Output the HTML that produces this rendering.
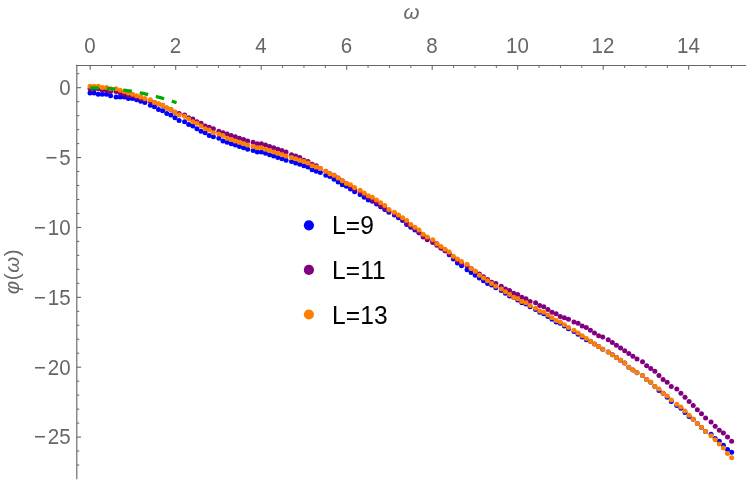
<!DOCTYPE html>
<html><head><meta charset="utf-8"><title>plot</title>
<style>
html,body{margin:0;padding:0;background:#fff;}
body{width:747px;height:481px;overflow:hidden;}
svg{display:block;font-family:"Liberation Sans",sans-serif;will-change:transform;-webkit-font-smoothing:antialiased;}
</style></head><body>
<svg width="747" height="481" viewBox="0 0 747 481">
<rect width="747" height="481" fill="#fff"/>
<g><line x1="76.22" y1="65.45" x2="746" y2="65.45" stroke="#666666" stroke-width="1.15"/><line x1="76.8" y1="64.87" x2="76.8" y2="479.3" stroke="#666666" stroke-width="1.15"/><line x1="90.20" y1="65.45" x2="90.20" y2="69.75" stroke="#666666" stroke-width="1.1"/><line x1="111.58" y1="65.45" x2="111.58" y2="67.95" stroke="#666666" stroke-width="1.0"/><line x1="132.95" y1="65.45" x2="132.95" y2="67.95" stroke="#666666" stroke-width="1.0"/><line x1="154.32" y1="65.45" x2="154.32" y2="67.95" stroke="#666666" stroke-width="1.0"/><line x1="175.70" y1="65.45" x2="175.70" y2="69.75" stroke="#666666" stroke-width="1.1"/><line x1="197.07" y1="65.45" x2="197.07" y2="67.95" stroke="#666666" stroke-width="1.0"/><line x1="218.45" y1="65.45" x2="218.45" y2="67.95" stroke="#666666" stroke-width="1.0"/><line x1="239.82" y1="65.45" x2="239.82" y2="67.95" stroke="#666666" stroke-width="1.0"/><line x1="261.20" y1="65.45" x2="261.20" y2="69.75" stroke="#666666" stroke-width="1.1"/><line x1="282.57" y1="65.45" x2="282.57" y2="67.95" stroke="#666666" stroke-width="1.0"/><line x1="303.95" y1="65.45" x2="303.95" y2="67.95" stroke="#666666" stroke-width="1.0"/><line x1="325.32" y1="65.45" x2="325.32" y2="67.95" stroke="#666666" stroke-width="1.0"/><line x1="346.70" y1="65.45" x2="346.70" y2="69.75" stroke="#666666" stroke-width="1.1"/><line x1="368.07" y1="65.45" x2="368.07" y2="67.95" stroke="#666666" stroke-width="1.0"/><line x1="389.45" y1="65.45" x2="389.45" y2="67.95" stroke="#666666" stroke-width="1.0"/><line x1="410.82" y1="65.45" x2="410.82" y2="67.95" stroke="#666666" stroke-width="1.0"/><line x1="432.20" y1="65.45" x2="432.20" y2="69.75" stroke="#666666" stroke-width="1.1"/><line x1="453.57" y1="65.45" x2="453.57" y2="67.95" stroke="#666666" stroke-width="1.0"/><line x1="474.95" y1="65.45" x2="474.95" y2="67.95" stroke="#666666" stroke-width="1.0"/><line x1="496.32" y1="65.45" x2="496.32" y2="67.95" stroke="#666666" stroke-width="1.0"/><line x1="517.70" y1="65.45" x2="517.70" y2="69.75" stroke="#666666" stroke-width="1.1"/><line x1="539.08" y1="65.45" x2="539.08" y2="67.95" stroke="#666666" stroke-width="1.0"/><line x1="560.45" y1="65.45" x2="560.45" y2="67.95" stroke="#666666" stroke-width="1.0"/><line x1="581.83" y1="65.45" x2="581.83" y2="67.95" stroke="#666666" stroke-width="1.0"/><line x1="603.20" y1="65.45" x2="603.20" y2="69.75" stroke="#666666" stroke-width="1.1"/><line x1="624.58" y1="65.45" x2="624.58" y2="67.95" stroke="#666666" stroke-width="1.0"/><line x1="645.95" y1="65.45" x2="645.95" y2="67.95" stroke="#666666" stroke-width="1.0"/><line x1="667.33" y1="65.45" x2="667.33" y2="67.95" stroke="#666666" stroke-width="1.0"/><line x1="688.70" y1="65.45" x2="688.70" y2="69.75" stroke="#666666" stroke-width="1.1"/><line x1="710.08" y1="65.45" x2="710.08" y2="67.95" stroke="#666666" stroke-width="1.0"/><line x1="731.45" y1="65.45" x2="731.45" y2="67.95" stroke="#666666" stroke-width="1.0"/><line x1="76.8" y1="73.73" x2="79.3" y2="73.73" stroke="#666666" stroke-width="1.0"/><line x1="76.8" y1="87.70" x2="81.1" y2="87.70" stroke="#666666" stroke-width="1.1"/><line x1="76.8" y1="101.67" x2="79.3" y2="101.67" stroke="#666666" stroke-width="1.0"/><line x1="76.8" y1="115.65" x2="79.3" y2="115.65" stroke="#666666" stroke-width="1.0"/><line x1="76.8" y1="129.62" x2="79.3" y2="129.62" stroke="#666666" stroke-width="1.0"/><line x1="76.8" y1="143.60" x2="79.3" y2="143.60" stroke="#666666" stroke-width="1.0"/><line x1="76.8" y1="157.57" x2="81.1" y2="157.57" stroke="#666666" stroke-width="1.1"/><line x1="76.8" y1="171.55" x2="79.3" y2="171.55" stroke="#666666" stroke-width="1.0"/><line x1="76.8" y1="185.53" x2="79.3" y2="185.53" stroke="#666666" stroke-width="1.0"/><line x1="76.8" y1="199.50" x2="79.3" y2="199.50" stroke="#666666" stroke-width="1.0"/><line x1="76.8" y1="213.47" x2="79.3" y2="213.47" stroke="#666666" stroke-width="1.0"/><line x1="76.8" y1="227.45" x2="81.1" y2="227.45" stroke="#666666" stroke-width="1.1"/><line x1="76.8" y1="241.43" x2="79.3" y2="241.43" stroke="#666666" stroke-width="1.0"/><line x1="76.8" y1="255.40" x2="79.3" y2="255.40" stroke="#666666" stroke-width="1.0"/><line x1="76.8" y1="269.38" x2="79.3" y2="269.38" stroke="#666666" stroke-width="1.0"/><line x1="76.8" y1="283.35" x2="79.3" y2="283.35" stroke="#666666" stroke-width="1.0"/><line x1="76.8" y1="297.32" x2="81.1" y2="297.32" stroke="#666666" stroke-width="1.1"/><line x1="76.8" y1="311.30" x2="79.3" y2="311.30" stroke="#666666" stroke-width="1.0"/><line x1="76.8" y1="325.27" x2="79.3" y2="325.27" stroke="#666666" stroke-width="1.0"/><line x1="76.8" y1="339.25" x2="79.3" y2="339.25" stroke="#666666" stroke-width="1.0"/><line x1="76.8" y1="353.22" x2="79.3" y2="353.22" stroke="#666666" stroke-width="1.0"/><line x1="76.8" y1="367.20" x2="81.1" y2="367.20" stroke="#666666" stroke-width="1.1"/><line x1="76.8" y1="381.17" x2="79.3" y2="381.17" stroke="#666666" stroke-width="1.0"/><line x1="76.8" y1="395.15" x2="79.3" y2="395.15" stroke="#666666" stroke-width="1.0"/><line x1="76.8" y1="409.12" x2="79.3" y2="409.12" stroke="#666666" stroke-width="1.0"/><line x1="76.8" y1="423.10" x2="79.3" y2="423.10" stroke="#666666" stroke-width="1.0"/><line x1="76.8" y1="437.07" x2="81.1" y2="437.07" stroke="#666666" stroke-width="1.1"/><line x1="76.8" y1="451.05" x2="79.3" y2="451.05" stroke="#666666" stroke-width="1.0"/><line x1="76.8" y1="465.02" x2="79.3" y2="465.02" stroke="#666666" stroke-width="1.0"/></g>
<g fill="#0000ff"><circle cx="90.00" cy="92.98" r="2.5"/><circle cx="94.11" cy="92.98" r="2.5"/><circle cx="98.23" cy="94.36" r="2.5"/><circle cx="102.34" cy="94.36" r="2.5"/><circle cx="106.45" cy="94.36" r="2.5"/><circle cx="110.56" cy="95.73" r="2.5"/><circle cx="116.05" cy="97.10" r="2.5"/><circle cx="120.16" cy="97.10" r="2.5"/><circle cx="124.28" cy="97.10" r="2.5"/><circle cx="128.39" cy="98.47" r="2.5"/><circle cx="132.50" cy="98.47" r="2.5"/><circle cx="136.61" cy="99.84" r="2.5"/><circle cx="140.73" cy="101.21" r="2.5"/><circle cx="144.84" cy="102.58" r="2.5"/><circle cx="150.32" cy="105.32" r="2.5"/><circle cx="154.44" cy="106.69" r="2.5"/><circle cx="158.55" cy="109.44" r="2.5"/><circle cx="162.66" cy="110.81" r="2.5"/><circle cx="166.78" cy="113.55" r="2.5"/><circle cx="170.89" cy="114.92" r="2.5"/><circle cx="175.00" cy="117.66" r="2.5"/><circle cx="179.12" cy="120.40" r="2.5"/><circle cx="184.60" cy="121.78" r="2.5"/><circle cx="188.71" cy="124.52" r="2.5"/><circle cx="192.82" cy="125.89" r="2.5"/><circle cx="196.94" cy="128.63" r="2.5"/><circle cx="201.05" cy="131.37" r="2.5"/><circle cx="205.16" cy="132.74" r="2.5"/><circle cx="209.28" cy="135.49" r="2.5"/><circle cx="213.39" cy="136.86" r="2.5"/><circle cx="218.87" cy="138.23" r="2.5"/><circle cx="222.99" cy="140.97" r="2.5"/><circle cx="227.10" cy="142.34" r="2.5"/><circle cx="231.21" cy="143.71" r="2.5"/><circle cx="235.33" cy="145.08" r="2.5"/><circle cx="239.44" cy="146.45" r="2.5"/><circle cx="243.55" cy="147.82" r="2.5"/><circle cx="247.66" cy="149.19" r="2.5"/><circle cx="253.15" cy="150.57" r="2.5"/><circle cx="257.26" cy="151.94" r="2.5"/><circle cx="261.38" cy="151.94" r="2.5"/><circle cx="265.49" cy="153.31" r="2.5"/><circle cx="269.60" cy="154.68" r="2.5"/><circle cx="273.71" cy="156.05" r="2.5"/><circle cx="277.83" cy="157.42" r="2.5"/><circle cx="281.94" cy="158.79" r="2.5"/><circle cx="286.05" cy="160.16" r="2.5"/><circle cx="291.54" cy="161.53" r="2.5"/><circle cx="295.65" cy="162.91" r="2.5"/><circle cx="299.76" cy="164.28" r="2.5"/><circle cx="303.88" cy="165.65" r="2.5"/><circle cx="307.99" cy="167.02" r="2.5"/><circle cx="312.10" cy="169.76" r="2.5"/><circle cx="316.22" cy="171.13" r="2.5"/><circle cx="320.33" cy="172.50" r="2.5"/><circle cx="325.81" cy="175.24" r="2.5"/><circle cx="329.93" cy="176.62" r="2.5"/><circle cx="334.04" cy="179.36" r="2.5"/><circle cx="338.15" cy="182.10" r="2.5"/><circle cx="342.26" cy="184.84" r="2.5"/><circle cx="346.38" cy="186.21" r="2.5"/><circle cx="350.49" cy="188.95" r="2.5"/><circle cx="354.60" cy="191.70" r="2.5"/><circle cx="360.09" cy="194.44" r="2.5"/><circle cx="364.20" cy="197.18" r="2.5"/><circle cx="368.31" cy="199.92" r="2.5"/><circle cx="372.43" cy="201.29" r="2.5"/><circle cx="376.54" cy="204.03" r="2.5"/><circle cx="380.65" cy="206.78" r="2.5"/><circle cx="384.76" cy="209.52" r="2.5"/><circle cx="388.88" cy="212.26" r="2.5"/><circle cx="394.36" cy="215.00" r="2.5"/><circle cx="398.48" cy="217.75" r="2.5"/><circle cx="402.59" cy="220.49" r="2.5"/><circle cx="406.70" cy="224.60" r="2.5"/><circle cx="410.81" cy="227.34" r="2.5"/><circle cx="414.93" cy="230.08" r="2.5"/><circle cx="419.04" cy="232.83" r="2.5"/><circle cx="423.15" cy="235.57" r="2.5"/><circle cx="427.27" cy="238.31" r="2.5"/><circle cx="432.75" cy="241.05" r="2.5"/><circle cx="436.86" cy="243.79" r="2.5"/><circle cx="440.98" cy="247.91" r="2.5"/><circle cx="445.09" cy="250.65" r="2.5"/><circle cx="449.20" cy="254.76" r="2.5"/><circle cx="453.31" cy="258.88" r="2.5"/><circle cx="457.43" cy="262.99" r="2.5"/><circle cx="461.54" cy="265.73" r="2.5"/><circle cx="467.02" cy="269.84" r="2.5"/><circle cx="471.14" cy="272.59" r="2.5"/><circle cx="475.25" cy="275.33" r="2.5"/><circle cx="479.36" cy="278.07" r="2.5"/><circle cx="483.48" cy="280.81" r="2.5"/><circle cx="487.59" cy="283.55" r="2.5"/><circle cx="491.70" cy="284.92" r="2.5"/><circle cx="495.82" cy="287.67" r="2.5"/><circle cx="501.30" cy="290.41" r="2.5"/><circle cx="505.41" cy="293.15" r="2.5"/><circle cx="509.53" cy="295.89" r="2.5"/><circle cx="513.64" cy="297.26" r="2.5"/><circle cx="517.75" cy="300.00" r="2.5"/><circle cx="521.87" cy="302.75" r="2.5"/><circle cx="525.98" cy="304.12" r="2.5"/><circle cx="530.09" cy="306.86" r="2.5"/><circle cx="535.58" cy="309.60" r="2.5"/><circle cx="539.69" cy="312.34" r="2.5"/><circle cx="543.80" cy="313.72" r="2.5"/><circle cx="547.91" cy="316.46" r="2.5"/><circle cx="552.03" cy="319.20" r="2.5"/><circle cx="556.14" cy="321.94" r="2.5"/><circle cx="560.25" cy="323.31" r="2.5"/><circle cx="564.37" cy="326.05" r="2.5"/><circle cx="568.48" cy="328.80" r="2.5"/><circle cx="573.96" cy="331.54" r="2.5"/><circle cx="578.08" cy="334.28" r="2.5"/><circle cx="582.19" cy="337.02" r="2.5"/><circle cx="586.30" cy="339.76" r="2.5"/><circle cx="590.41" cy="341.13" r="2.5"/><circle cx="594.53" cy="343.88" r="2.5"/><circle cx="598.64" cy="346.62" r="2.5"/><circle cx="602.75" cy="349.36" r="2.5"/><circle cx="608.24" cy="352.10" r="2.5"/><circle cx="612.35" cy="354.85" r="2.5"/><circle cx="616.46" cy="357.59" r="2.5"/><circle cx="620.58" cy="360.33" r="2.5"/><circle cx="624.69" cy="363.07" r="2.5"/><circle cx="628.80" cy="367.18" r="2.5"/><circle cx="632.92" cy="369.93" r="2.5"/><circle cx="637.03" cy="372.67" r="2.5"/><circle cx="642.51" cy="375.41" r="2.5"/><circle cx="646.63" cy="379.52" r="2.5"/><circle cx="650.74" cy="382.26" r="2.5"/><circle cx="654.85" cy="386.38" r="2.5"/><circle cx="658.97" cy="390.49" r="2.5"/><circle cx="663.08" cy="393.23" r="2.5"/><circle cx="667.19" cy="397.35" r="2.5"/><circle cx="671.30" cy="401.46" r="2.5"/><circle cx="676.79" cy="405.57" r="2.5"/><circle cx="680.90" cy="408.31" r="2.5"/><circle cx="685.01" cy="412.43" r="2.5"/><circle cx="689.13" cy="416.54" r="2.5"/><circle cx="693.24" cy="419.28" r="2.5"/><circle cx="697.35" cy="423.39" r="2.5"/><circle cx="701.47" cy="427.51" r="2.5"/><circle cx="705.58" cy="431.62" r="2.5"/><circle cx="711.06" cy="434.36" r="2.5"/><circle cx="715.18" cy="438.48" r="2.5"/><circle cx="719.29" cy="441.22" r="2.5"/><circle cx="723.40" cy="445.33" r="2.5"/><circle cx="727.51" cy="449.44" r="2.5"/><circle cx="731.63" cy="452.19" r="2.5"/></g><g fill="#800080"><circle cx="90.00" cy="88.87" r="2.5"/><circle cx="94.11" cy="88.87" r="2.5"/><circle cx="98.23" cy="88.87" r="2.5"/><circle cx="102.34" cy="90.24" r="2.5"/><circle cx="106.45" cy="90.24" r="2.5"/><circle cx="110.56" cy="91.61" r="2.5"/><circle cx="116.05" cy="91.61" r="2.5"/><circle cx="120.16" cy="92.98" r="2.5"/><circle cx="124.28" cy="94.36" r="2.5"/><circle cx="128.39" cy="95.73" r="2.5"/><circle cx="132.50" cy="95.73" r="2.5"/><circle cx="136.61" cy="97.10" r="2.5"/><circle cx="140.73" cy="98.47" r="2.5"/><circle cx="144.84" cy="99.84" r="2.5"/><circle cx="150.32" cy="101.21" r="2.5"/><circle cx="154.44" cy="102.58" r="2.5"/><circle cx="158.55" cy="103.95" r="2.5"/><circle cx="162.66" cy="105.32" r="2.5"/><circle cx="166.78" cy="108.06" r="2.5"/><circle cx="170.89" cy="109.44" r="2.5"/><circle cx="175.00" cy="112.18" r="2.5"/><circle cx="179.12" cy="113.55" r="2.5"/><circle cx="184.60" cy="114.92" r="2.5"/><circle cx="188.71" cy="117.66" r="2.5"/><circle cx="192.82" cy="119.03" r="2.5"/><circle cx="196.94" cy="121.78" r="2.5"/><circle cx="201.05" cy="123.15" r="2.5"/><circle cx="205.16" cy="125.89" r="2.5"/><circle cx="209.28" cy="127.26" r="2.5"/><circle cx="213.39" cy="128.63" r="2.5"/><circle cx="218.87" cy="131.37" r="2.5"/><circle cx="222.99" cy="132.74" r="2.5"/><circle cx="227.10" cy="134.11" r="2.5"/><circle cx="231.21" cy="135.49" r="2.5"/><circle cx="235.33" cy="136.86" r="2.5"/><circle cx="239.44" cy="138.23" r="2.5"/><circle cx="243.55" cy="139.60" r="2.5"/><circle cx="247.66" cy="140.97" r="2.5"/><circle cx="253.15" cy="142.34" r="2.5"/><circle cx="257.26" cy="143.71" r="2.5"/><circle cx="261.38" cy="143.71" r="2.5"/><circle cx="265.49" cy="145.08" r="2.5"/><circle cx="269.60" cy="146.45" r="2.5"/><circle cx="273.71" cy="147.82" r="2.5"/><circle cx="277.83" cy="149.19" r="2.5"/><circle cx="281.94" cy="150.57" r="2.5"/><circle cx="286.05" cy="151.94" r="2.5"/><circle cx="291.54" cy="154.68" r="2.5"/><circle cx="295.65" cy="156.05" r="2.5"/><circle cx="299.76" cy="157.42" r="2.5"/><circle cx="303.88" cy="160.16" r="2.5"/><circle cx="307.99" cy="161.53" r="2.5"/><circle cx="312.10" cy="164.28" r="2.5"/><circle cx="316.22" cy="165.65" r="2.5"/><circle cx="320.33" cy="168.39" r="2.5"/><circle cx="325.81" cy="171.13" r="2.5"/><circle cx="329.93" cy="173.87" r="2.5"/><circle cx="334.04" cy="175.24" r="2.5"/><circle cx="338.15" cy="177.99" r="2.5"/><circle cx="342.26" cy="180.73" r="2.5"/><circle cx="346.38" cy="183.47" r="2.5"/><circle cx="350.49" cy="186.21" r="2.5"/><circle cx="354.60" cy="188.95" r="2.5"/><circle cx="360.09" cy="191.70" r="2.5"/><circle cx="364.20" cy="194.44" r="2.5"/><circle cx="368.31" cy="197.18" r="2.5"/><circle cx="372.43" cy="199.92" r="2.5"/><circle cx="376.54" cy="202.66" r="2.5"/><circle cx="380.65" cy="205.41" r="2.5"/><circle cx="384.76" cy="208.15" r="2.5"/><circle cx="388.88" cy="210.89" r="2.5"/><circle cx="394.36" cy="213.63" r="2.5"/><circle cx="398.48" cy="216.37" r="2.5"/><circle cx="402.59" cy="219.12" r="2.5"/><circle cx="406.70" cy="223.23" r="2.5"/><circle cx="410.81" cy="225.97" r="2.5"/><circle cx="414.93" cy="228.71" r="2.5"/><circle cx="419.04" cy="232.83" r="2.5"/><circle cx="423.15" cy="236.94" r="2.5"/><circle cx="427.27" cy="239.68" r="2.5"/><circle cx="432.75" cy="242.42" r="2.5"/><circle cx="436.86" cy="245.16" r="2.5"/><circle cx="440.98" cy="247.91" r="2.5"/><circle cx="445.09" cy="250.65" r="2.5"/><circle cx="449.20" cy="253.39" r="2.5"/><circle cx="453.31" cy="257.50" r="2.5"/><circle cx="457.43" cy="260.25" r="2.5"/><circle cx="461.54" cy="262.99" r="2.5"/><circle cx="467.02" cy="265.73" r="2.5"/><circle cx="471.14" cy="268.47" r="2.5"/><circle cx="475.25" cy="271.21" r="2.5"/><circle cx="479.36" cy="273.96" r="2.5"/><circle cx="483.48" cy="276.70" r="2.5"/><circle cx="487.59" cy="279.44" r="2.5"/><circle cx="491.70" cy="282.18" r="2.5"/><circle cx="495.82" cy="283.55" r="2.5"/><circle cx="501.30" cy="286.29" r="2.5"/><circle cx="505.41" cy="289.04" r="2.5"/><circle cx="509.53" cy="290.41" r="2.5"/><circle cx="513.64" cy="293.15" r="2.5"/><circle cx="517.75" cy="294.52" r="2.5"/><circle cx="521.87" cy="297.26" r="2.5"/><circle cx="525.98" cy="298.63" r="2.5"/><circle cx="530.09" cy="301.38" r="2.5"/><circle cx="535.58" cy="302.75" r="2.5"/><circle cx="539.69" cy="305.49" r="2.5"/><circle cx="543.80" cy="306.86" r="2.5"/><circle cx="547.91" cy="309.60" r="2.5"/><circle cx="552.03" cy="312.34" r="2.5"/><circle cx="556.14" cy="313.72" r="2.5"/><circle cx="560.25" cy="316.46" r="2.5"/><circle cx="564.37" cy="317.83" r="2.5"/><circle cx="568.48" cy="319.20" r="2.5"/><circle cx="573.96" cy="321.94" r="2.5"/><circle cx="578.08" cy="323.31" r="2.5"/><circle cx="582.19" cy="326.05" r="2.5"/><circle cx="586.30" cy="327.43" r="2.5"/><circle cx="590.41" cy="330.17" r="2.5"/><circle cx="594.53" cy="332.91" r="2.5"/><circle cx="598.64" cy="335.65" r="2.5"/><circle cx="602.75" cy="337.02" r="2.5"/><circle cx="608.24" cy="339.76" r="2.5"/><circle cx="612.35" cy="342.51" r="2.5"/><circle cx="616.46" cy="345.25" r="2.5"/><circle cx="620.58" cy="347.99" r="2.5"/><circle cx="624.69" cy="350.73" r="2.5"/><circle cx="628.80" cy="353.47" r="2.5"/><circle cx="632.92" cy="356.22" r="2.5"/><circle cx="637.03" cy="358.96" r="2.5"/><circle cx="642.51" cy="361.70" r="2.5"/><circle cx="646.63" cy="365.81" r="2.5"/><circle cx="650.74" cy="368.56" r="2.5"/><circle cx="654.85" cy="371.30" r="2.5"/><circle cx="658.97" cy="375.41" r="2.5"/><circle cx="663.08" cy="379.52" r="2.5"/><circle cx="667.19" cy="382.26" r="2.5"/><circle cx="671.30" cy="386.38" r="2.5"/><circle cx="676.79" cy="389.12" r="2.5"/><circle cx="680.90" cy="393.23" r="2.5"/><circle cx="685.01" cy="397.35" r="2.5"/><circle cx="689.13" cy="401.46" r="2.5"/><circle cx="693.24" cy="405.57" r="2.5"/><circle cx="697.35" cy="409.69" r="2.5"/><circle cx="701.47" cy="413.80" r="2.5"/><circle cx="705.58" cy="417.91" r="2.5"/><circle cx="711.06" cy="422.02" r="2.5"/><circle cx="715.18" cy="426.14" r="2.5"/><circle cx="719.29" cy="430.25" r="2.5"/><circle cx="723.40" cy="432.99" r="2.5"/><circle cx="727.51" cy="437.11" r="2.5"/><circle cx="731.63" cy="441.22" r="2.5"/></g><g fill="#ff8000"><circle cx="90.00" cy="86.13" r="2.5"/><circle cx="94.11" cy="86.13" r="2.5"/><circle cx="98.23" cy="86.13" r="2.5"/><circle cx="102.34" cy="87.50" r="2.5"/><circle cx="106.45" cy="87.50" r="2.5"/><circle cx="110.56" cy="88.87" r="2.5"/><circle cx="116.05" cy="88.87" r="2.5"/><circle cx="120.16" cy="90.24" r="2.5"/><circle cx="124.28" cy="91.61" r="2.5"/><circle cx="128.39" cy="92.98" r="2.5"/><circle cx="132.50" cy="94.36" r="2.5"/><circle cx="136.61" cy="95.73" r="2.5"/><circle cx="140.73" cy="97.10" r="2.5"/><circle cx="144.84" cy="98.47" r="2.5"/><circle cx="150.32" cy="99.84" r="2.5"/><circle cx="154.44" cy="102.58" r="2.5"/><circle cx="158.55" cy="103.95" r="2.5"/><circle cx="162.66" cy="105.32" r="2.5"/><circle cx="166.78" cy="108.06" r="2.5"/><circle cx="170.89" cy="109.44" r="2.5"/><circle cx="175.00" cy="112.18" r="2.5"/><circle cx="179.12" cy="114.92" r="2.5"/><circle cx="184.60" cy="116.29" r="2.5"/><circle cx="188.71" cy="119.03" r="2.5"/><circle cx="192.82" cy="121.78" r="2.5"/><circle cx="196.94" cy="123.15" r="2.5"/><circle cx="201.05" cy="125.89" r="2.5"/><circle cx="205.16" cy="128.63" r="2.5"/><circle cx="209.28" cy="130.00" r="2.5"/><circle cx="213.39" cy="132.74" r="2.5"/><circle cx="218.87" cy="134.11" r="2.5"/><circle cx="222.99" cy="135.49" r="2.5"/><circle cx="227.10" cy="138.23" r="2.5"/><circle cx="231.21" cy="139.60" r="2.5"/><circle cx="235.33" cy="140.97" r="2.5"/><circle cx="239.44" cy="142.34" r="2.5"/><circle cx="243.55" cy="143.71" r="2.5"/><circle cx="247.66" cy="145.08" r="2.5"/><circle cx="253.15" cy="146.45" r="2.5"/><circle cx="257.26" cy="147.82" r="2.5"/><circle cx="261.38" cy="147.82" r="2.5"/><circle cx="265.49" cy="149.19" r="2.5"/><circle cx="269.60" cy="150.57" r="2.5"/><circle cx="273.71" cy="151.94" r="2.5"/><circle cx="277.83" cy="153.31" r="2.5"/><circle cx="281.94" cy="154.68" r="2.5"/><circle cx="286.05" cy="156.05" r="2.5"/><circle cx="291.54" cy="157.42" r="2.5"/><circle cx="295.65" cy="158.79" r="2.5"/><circle cx="299.76" cy="160.16" r="2.5"/><circle cx="303.88" cy="161.53" r="2.5"/><circle cx="307.99" cy="162.91" r="2.5"/><circle cx="312.10" cy="165.65" r="2.5"/><circle cx="316.22" cy="167.02" r="2.5"/><circle cx="320.33" cy="168.39" r="2.5"/><circle cx="325.81" cy="171.13" r="2.5"/><circle cx="329.93" cy="173.87" r="2.5"/><circle cx="334.04" cy="175.24" r="2.5"/><circle cx="338.15" cy="177.99" r="2.5"/><circle cx="342.26" cy="180.73" r="2.5"/><circle cx="346.38" cy="183.47" r="2.5"/><circle cx="350.49" cy="184.84" r="2.5"/><circle cx="354.60" cy="187.58" r="2.5"/><circle cx="360.09" cy="190.32" r="2.5"/><circle cx="364.20" cy="193.07" r="2.5"/><circle cx="368.31" cy="195.81" r="2.5"/><circle cx="372.43" cy="197.18" r="2.5"/><circle cx="376.54" cy="199.92" r="2.5"/><circle cx="380.65" cy="202.66" r="2.5"/><circle cx="384.76" cy="205.41" r="2.5"/><circle cx="388.88" cy="209.52" r="2.5"/><circle cx="394.36" cy="212.26" r="2.5"/><circle cx="398.48" cy="215.00" r="2.5"/><circle cx="402.59" cy="217.75" r="2.5"/><circle cx="406.70" cy="220.49" r="2.5"/><circle cx="410.81" cy="224.60" r="2.5"/><circle cx="414.93" cy="227.34" r="2.5"/><circle cx="419.04" cy="230.08" r="2.5"/><circle cx="423.15" cy="234.20" r="2.5"/><circle cx="427.27" cy="236.94" r="2.5"/><circle cx="432.75" cy="239.68" r="2.5"/><circle cx="436.86" cy="243.79" r="2.5"/><circle cx="440.98" cy="246.54" r="2.5"/><circle cx="445.09" cy="249.28" r="2.5"/><circle cx="449.20" cy="252.02" r="2.5"/><circle cx="453.31" cy="256.13" r="2.5"/><circle cx="457.43" cy="258.88" r="2.5"/><circle cx="461.54" cy="261.62" r="2.5"/><circle cx="467.02" cy="264.36" r="2.5"/><circle cx="471.14" cy="268.47" r="2.5"/><circle cx="475.25" cy="271.21" r="2.5"/><circle cx="479.36" cy="275.33" r="2.5"/><circle cx="483.48" cy="278.07" r="2.5"/><circle cx="487.59" cy="280.81" r="2.5"/><circle cx="491.70" cy="283.55" r="2.5"/><circle cx="495.82" cy="286.29" r="2.5"/><circle cx="501.30" cy="289.04" r="2.5"/><circle cx="505.41" cy="291.78" r="2.5"/><circle cx="509.53" cy="294.52" r="2.5"/><circle cx="513.64" cy="297.26" r="2.5"/><circle cx="517.75" cy="298.63" r="2.5"/><circle cx="521.87" cy="301.38" r="2.5"/><circle cx="525.98" cy="302.75" r="2.5"/><circle cx="530.09" cy="305.49" r="2.5"/><circle cx="535.58" cy="308.23" r="2.5"/><circle cx="539.69" cy="310.97" r="2.5"/><circle cx="543.80" cy="312.34" r="2.5"/><circle cx="547.91" cy="315.09" r="2.5"/><circle cx="552.03" cy="317.83" r="2.5"/><circle cx="556.14" cy="320.57" r="2.5"/><circle cx="560.25" cy="321.94" r="2.5"/><circle cx="564.37" cy="324.68" r="2.5"/><circle cx="568.48" cy="327.43" r="2.5"/><circle cx="573.96" cy="330.17" r="2.5"/><circle cx="578.08" cy="332.91" r="2.5"/><circle cx="582.19" cy="335.65" r="2.5"/><circle cx="586.30" cy="338.39" r="2.5"/><circle cx="590.41" cy="341.13" r="2.5"/><circle cx="594.53" cy="343.88" r="2.5"/><circle cx="598.64" cy="346.62" r="2.5"/><circle cx="602.75" cy="349.36" r="2.5"/><circle cx="608.24" cy="352.10" r="2.5"/><circle cx="612.35" cy="354.85" r="2.5"/><circle cx="616.46" cy="357.59" r="2.5"/><circle cx="620.58" cy="360.33" r="2.5"/><circle cx="624.69" cy="363.07" r="2.5"/><circle cx="628.80" cy="367.18" r="2.5"/><circle cx="632.92" cy="369.93" r="2.5"/><circle cx="637.03" cy="372.67" r="2.5"/><circle cx="642.51" cy="375.41" r="2.5"/><circle cx="646.63" cy="379.52" r="2.5"/><circle cx="650.74" cy="382.26" r="2.5"/><circle cx="654.85" cy="386.38" r="2.5"/><circle cx="658.97" cy="389.12" r="2.5"/><circle cx="663.08" cy="393.23" r="2.5"/><circle cx="667.19" cy="395.98" r="2.5"/><circle cx="671.30" cy="400.09" r="2.5"/><circle cx="676.79" cy="404.20" r="2.5"/><circle cx="680.90" cy="406.94" r="2.5"/><circle cx="685.01" cy="411.06" r="2.5"/><circle cx="689.13" cy="415.17" r="2.5"/><circle cx="693.24" cy="419.28" r="2.5"/><circle cx="697.35" cy="423.39" r="2.5"/><circle cx="701.47" cy="427.51" r="2.5"/><circle cx="705.58" cy="431.62" r="2.5"/><circle cx="711.06" cy="435.73" r="2.5"/><circle cx="715.18" cy="439.85" r="2.5"/><circle cx="719.29" cy="443.96" r="2.5"/><circle cx="723.40" cy="448.07" r="2.5"/><circle cx="727.51" cy="453.56" r="2.5"/><circle cx="731.63" cy="457.67" r="2.5"/></g>
<polyline points="90.20,87.90 91.66,87.90 93.13,87.92 94.59,87.94 96.05,87.97 97.52,88.01 98.98,88.05 100.45,88.11 101.91,88.17 103.37,88.24 104.84,88.33 106.30,88.41 107.76,88.51 109.23,88.62 110.69,88.73 112.15,88.86 113.62,88.99 115.08,89.13 116.55,89.28 118.01,89.43 119.47,89.60 120.94,89.77 122.40,89.96 123.86,90.15 125.33,90.35 126.79,90.56 128.25,90.77 129.72,91.00 131.18,91.23 132.65,91.48 134.11,91.73 135.57,91.99 137.04,92.25 138.50,92.53 139.96,92.81 141.43,93.11 142.89,93.41 144.35,93.72 145.82,94.04 147.28,94.37 148.75,94.70 150.21,95.05 151.67,95.40 153.14,95.76 154.60,96.13 156.06,96.51 157.53,96.90 158.99,97.29 160.45,97.70 161.92,98.11 163.38,98.53 164.85,98.96 166.31,99.40 167.77,99.84 169.24,100.30 170.70,100.76 172.16,101.23 173.63,101.71 175.09,102.20 176.56,102.70" fill="none" stroke="#00aa00" stroke-width="3.3" stroke-dasharray="8.6 8.0"/>
<g font-size="20.5" fill="#666666"><text transform="translate(90.00,53.1) scale(1,1.08)" text-anchor="middle">0</text><text transform="translate(175.50,53.1) scale(1,1.08)" text-anchor="middle">2</text><text transform="translate(261.00,53.1) scale(1,1.08)" text-anchor="middle">4</text><text transform="translate(346.50,53.1) scale(1,1.08)" text-anchor="middle">6</text><text transform="translate(432.00,53.1) scale(1,1.08)" text-anchor="middle">8</text><text transform="translate(517.50,53.1) scale(1,1.08)" text-anchor="middle">10</text><text transform="translate(603.00,53.1) scale(1,1.08)" text-anchor="middle">12</text><text transform="translate(688.50,53.1) scale(1,1.08)" text-anchor="middle">14</text><text transform="translate(70.6,95.10) scale(1,1.08)" text-anchor="end">0</text><text transform="translate(70.6,164.97) scale(1,1.08)" text-anchor="end">−<tspan dx="1.8">5</tspan></text><text transform="translate(70.6,234.85) scale(1,1.08)" text-anchor="end">−<tspan dx="1.8">10</tspan></text><text transform="translate(70.6,304.72) scale(1,1.08)" text-anchor="end">−<tspan dx="1.8">15</tspan></text><text transform="translate(70.6,374.60) scale(1,1.08)" text-anchor="end">−<tspan dx="1.8">20</tspan></text><text transform="translate(70.6,444.47) scale(1,1.08)" text-anchor="end">−<tspan dx="1.8">25</tspan></text><text x="411.5" y="19" text-anchor="middle" font-style="italic">ω</text><text transform="translate(18.5,271.5) rotate(-90)" text-anchor="middle" font-style="italic" letter-spacing="0.6">φ<tspan font-style="normal">(</tspan>ω<tspan font-style="normal">)</tspan></text></g>
<g><circle cx="308.9" cy="225.30" r="5.1" fill="#0000ff"/><text transform="translate(332.1,233.80) scale(1,1.06)" font-size="24.6" letter-spacing="0.05" fill="#000">L=9</text><circle cx="308.9" cy="269.90" r="5.1" fill="#800080"/><text transform="translate(332.1,278.80) scale(1,1.06)" font-size="24.6" letter-spacing="0.05" fill="#000">L=11</text><circle cx="308.9" cy="314.50" r="5.1" fill="#ff8000"/><text transform="translate(332.1,323.80) scale(1,1.06)" font-size="24.6" letter-spacing="0.05" fill="#000">L=13</text></g>
</svg>
</body></html>
